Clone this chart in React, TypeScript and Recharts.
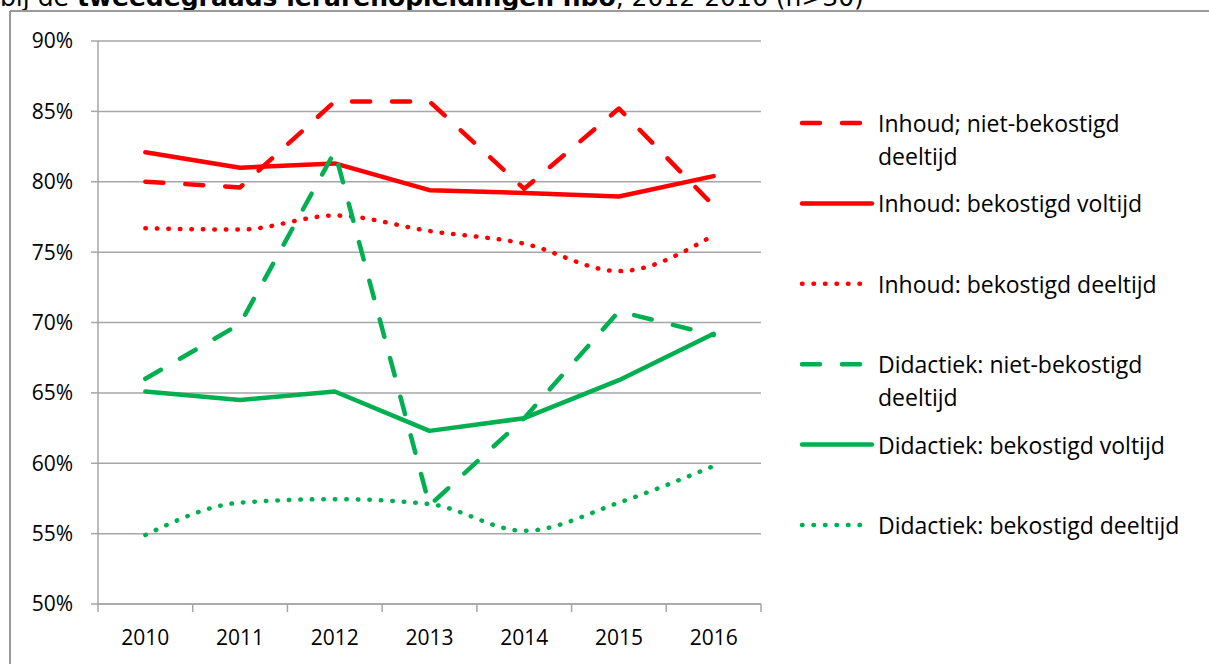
import React from 'react';
import { LineChart, Line, XAxis, YAxis, CartesianGrid } from 'recharts';

const categories = ['2010', '2011', '2012', '2013', '2014', '2015', '2016'];
const inhoudNietBekostigdDeeltijd = [80.0, 79.6, 85.7, 85.7, 79.5, 85.2, 78.3];
const inhoudBekostigdVoltijd = [82.1, 81.0, 81.3, 79.4, 79.2, 78.95, 80.4];
const inhoudBekostigdDeeltijd = [76.7, 76.6, 77.6, 76.5, 75.6, 73.65, 76.2];
const didactiekNietBekostigdDeeltijd = [66.0, 69.9, 82.15, 57.0, 63.2, 70.8, 69.1];
const didactiekBekostigdVoltijd = [65.1, 64.5, 65.1, 62.3, 63.2, 65.9, 69.2];
const didactiekBekostigdDeeltijd = [54.9, 57.2, 57.45, 57.1, 55.2, 57.2, 59.8];
const yTicks = [50, 55, 60, 65, 70, 75, 80, 85, 90];

const titleNormal1 = 'bij de ';
const titleBold = 'tweedegraads lerarenopleidingen hbo';
const titleNormal2 = ', 2012-2016 (n>30)';

const RED = '#FF0000';
const GREEN = '#00B050';
const GRID = '#A6A6A6';
const FONT = '"Open Sans", "Noto Sans", sans-serif';

type Style = 'dash' | 'solid' | 'dot';
const seriesDefs: { key: string; name: string[]; color: string; style: Style; values: number[] }[] = [
  { key: 'inb', name: ['Inhoud; niet-bekostigd', 'deeltijd'], color: RED, style: 'dash', values: inhoudNietBekostigdDeeltijd },
  { key: 'ibv', name: ['Inhoud: bekostigd voltijd'], color: RED, style: 'solid', values: inhoudBekostigdVoltijd },
  { key: 'ibd', name: ['Inhoud: bekostigd deeltijd'], color: RED, style: 'dot', values: inhoudBekostigdDeeltijd },
  { key: 'dnb', name: ['Didactiek: niet-bekostigd', 'deeltijd'], color: GREEN, style: 'dash', values: didactiekNietBekostigdDeeltijd },
  { key: 'dbv', name: ['Didactiek: bekostigd voltijd'], color: GREEN, style: 'solid', values: didactiekBekostigdVoltijd },
  { key: 'dbd', name: ['Didactiek: bekostigd deeltijd'], color: GREEN, style: 'dot', values: didactiekBekostigdDeeltijd },
];

const data = categories.map((c, i) => {
  const row: Record<string, any> = { year: c };
  seriesDefs.forEach((s) => {
    row[s.key] = s.values[i];
  });
  return row;
});

const DASH = '18 22';
const DOT = '0.5 11';

const XTick = (props: any) => {
  const { x, y, payload, index, visibleTicksCount } = props;
  const half = payload && typeof payload.offset === 'number' && payload.offset > 0 ? payload.offset : 47.4;
  const last = index === (visibleTicksCount ?? categories.length) - 1;
  return (
    <g>
      <line x1={x - half} x2={x - half} y1={y} y2={y + 8} stroke={GRID} strokeWidth={1.5} />
      {last && <line x1={x + half} x2={x + half} y1={y} y2={y + 8} stroke={GRID} strokeWidth={1.5} />}
      <text x={x} y={y + 33} textAnchor="middle" dominantBaseline="central" fontFamily={FONT} fontSize={21} fill="#000">
        {payload.value}
      </text>
    </g>
  );
};

const LegendBox = () => {
  const step = 80.4;
  return (
    <svg width={430} height={470} style={{ position: 'absolute', left: 790, top: 100 }}>
      {seriesDefs.map((s, i) => {
        const cy = 23 + i * step;
        const x1 = 12;
        const x2 = s.style === 'solid' ? 82 : 72;
        return (
          <g key={s.key}>
            <line
              x1={x1}
              x2={x2}
              y1={cy}
              y2={cy}
              stroke={s.color}
              strokeWidth={4.5}
              strokeLinecap="round"
              strokeDasharray={s.style === 'dash' ? DASH : s.style === 'dot' ? DOT : undefined}
            />
            {s.name.map((t, j) => (
              <text key={j} x={88} y={cy + j * 32.5} dominantBaseline="central" fontFamily={FONT} fontSize={23} fill="#000">
                {t}
              </text>
            ))}
          </g>
        );
      })}
    </svg>
  );
};

export default function App() {
  return (
    <div style={{ position: 'absolute', left: 0, top: 0, width: 1209, height: 664, overflow: 'hidden', background: '#fff' }}>
      <svg width={1209} height={664} style={{ position: 'absolute', left: 0, top: 0 }}>
        <text x={0} y={6} fontFamily='"DejaVu Sans", Verdana, sans-serif' fontSize={25} fill="#000">
          <tspan>{titleNormal1}</tspan>
          <tspan fontWeight="bold">{titleBold}</tspan>
          <tspan>{titleNormal2}</tspan>
        </text>
        <line x1={10} x2={1209} y1={11} y2={11} stroke="#9A9A9A" strokeWidth={2} />
        <line x1={10} x2={10} y1={11} y2={664} stroke="#9A9A9A" strokeWidth={2} />
      </svg>
      <div style={{ position: 'absolute', left: 0, top: 0 }}>
        <LineChart width={1209} height={664} data={data} margin={{ top: 41, right: 448, bottom: 0, left: 0 }}>
          <CartesianGrid vertical={false} stroke={GRID} strokeWidth={1.5} />
          <XAxis
            dataKey="year"
            scale="band"
            height={60}
            axisLine={{ stroke: GRID, strokeWidth: 1.5 }}
            tickLine={false}
            tickSize={0}
            tickMargin={0}
            tick={<XTick />}
            interval={0}
          />
          <YAxis
            width={98}
            domain={[50, 90]}
            ticks={yTicks}
            interval={0}
            tickFormatter={(v: number) => `${v}%`}
            axisLine={{ stroke: GRID, strokeWidth: 1.5 }}
            tickLine={{ stroke: GRID, strokeWidth: 1.5 }}
            tickSize={7}
            tickMargin={18}
            tick={{ fontFamily: FONT, fontSize: 21, fill: '#000' }}
          />
          {seriesDefs.map((s) => (
            <Line
              key={s.key}
              dataKey={s.key}
              name={s.name.join(' ')}
              type={s.style === 'dot' ? 'monotone' : 'linear'}
              stroke={s.color}
              strokeWidth={4.5}
              strokeLinecap="round"
              strokeLinejoin="round"
              strokeDasharray={s.style === 'dash' ? DASH : s.style === 'dot' ? DOT : undefined}
              dot={false}
              activeDot={false}
              isAnimationActive={false}
            />
          ))}
        </LineChart>
      </div>
      <LegendBox />
    </div>
  );
}
